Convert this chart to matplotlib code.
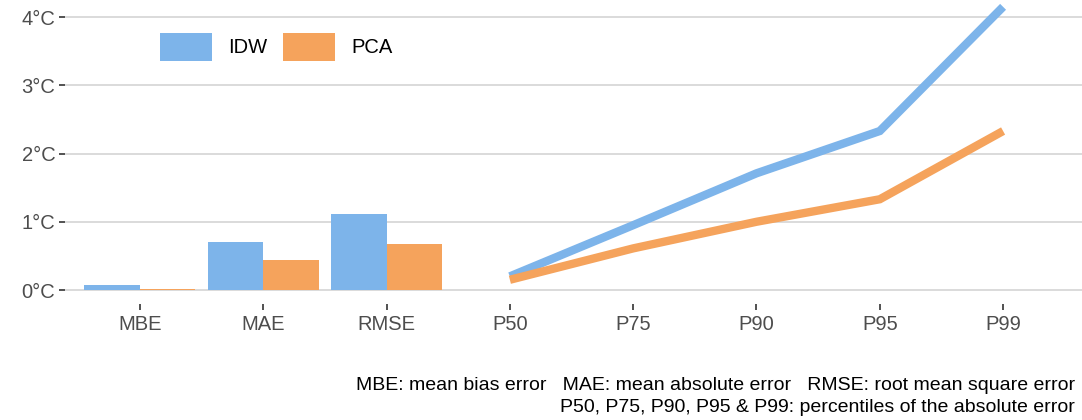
import matplotlib
matplotlib.use("Agg")
import matplotlib.pyplot as plt
from matplotlib.patches import Patch

plt.rcParams['font.family'] = ['Liberation Sans', 'DejaVu Sans']

# datos
categorias = ["MBE", "MAE", "RMSE", "P50", "P75", "P90", "P95", "P99"]
barras_cat = ["MBE", "MAE", "RMSE"]
idw_barras = [0.07, 0.70, 1.11]
pca_barras = [0.01, 0.44, 0.67]
lineas_cat = ["P50", "P75", "P90", "P95", "P99"]
idw_lineas = [0.20, 0.95, 1.71, 2.33, 4.15]
pca_lineas = [0.15, 0.61, 1.00, 1.33, 2.33]
ticks_y = [0, 1, 2, 3, 4]

azul = "#7DB4EA"
naranja = "#F5A35C"
gris_txt = "#4D4D4D"

fig = plt.figure(figsize=(10.82, 4.2), dpi=100)
ax = fig.add_axes([65 / 1082, 1 - 304 / 420, 1017 / 1082, 304 / 420])

pos = {c: i + 1 for i, c in enumerate(categorias)}
xb = [pos[c] for c in barras_cat]
ancho = 0.45
ax.bar([x - ancho / 2 for x in xb], idw_barras, width=ancho, color=azul, zorder=2)
ax.bar([x + ancho / 2 for x in xb], pca_barras, width=ancho, color=naranja, zorder=2)

xl = [pos[c] for c in lineas_cat]
ax.plot(xl, idw_lineas, color=azul, lw=6, solid_capstyle='butt', solid_joinstyle='miter', zorder=3)
ax.plot(xl, pca_lineas, color=naranja, lw=6, solid_capstyle='butt', solid_joinstyle='miter', zorder=4)

ax.set_xlim(0.392, 8.64)
ax.set_ylim(-0.205, 4.25)
ax.set_xticks(list(pos.values()))
ax.set_xticklabels(categorias)
ax.set_yticks(ticks_y)
ax.set_yticklabels([f"{v}°C" for v in ticks_y])
ax.tick_params(axis='both', colors="#333333", labelcolor=gris_txt, labelsize=14.5,
               length=4, width=1.2)
ax.tick_params(axis='x', pad=4)
ax.tick_params(axis='y', pad=3)
for s in ax.spines.values():
    s.set_visible(False)
ax.grid(axis='y', color="#D4D4D4", lw=1.2, zorder=0)
ax.set_axisbelow(True)

manejadores = [Patch(facecolor=azul, label="IDW"), Patch(facecolor=naranja, label="PCA")]
ax.legend(handles=manejadores, loc='upper left', bbox_to_anchor=(160 / 1082, 1 - 33 / 420),
          bbox_transform=fig.transFigure, ncol=2, frameon=False, fontsize=14.5,
          handlelength=2.6, handleheight=1.75, handletextpad=0.8, columnspacing=0.75,
          borderpad=0, borderaxespad=0)

fig.text(1075 / 1082, 1 - 386 / 420,
         "MBE: mean bias error   MAE: mean absolute error   RMSE: root mean square error",
         ha='right', va='center', fontsize=14)
fig.text(1075 / 1082, 1 - 407 / 420,
         "P50, P75, P90, P95 & P99: percentiles of the absolute error",
         ha='right', va='center', fontsize=14)

fig.savefig("out.png", dpi=100)
